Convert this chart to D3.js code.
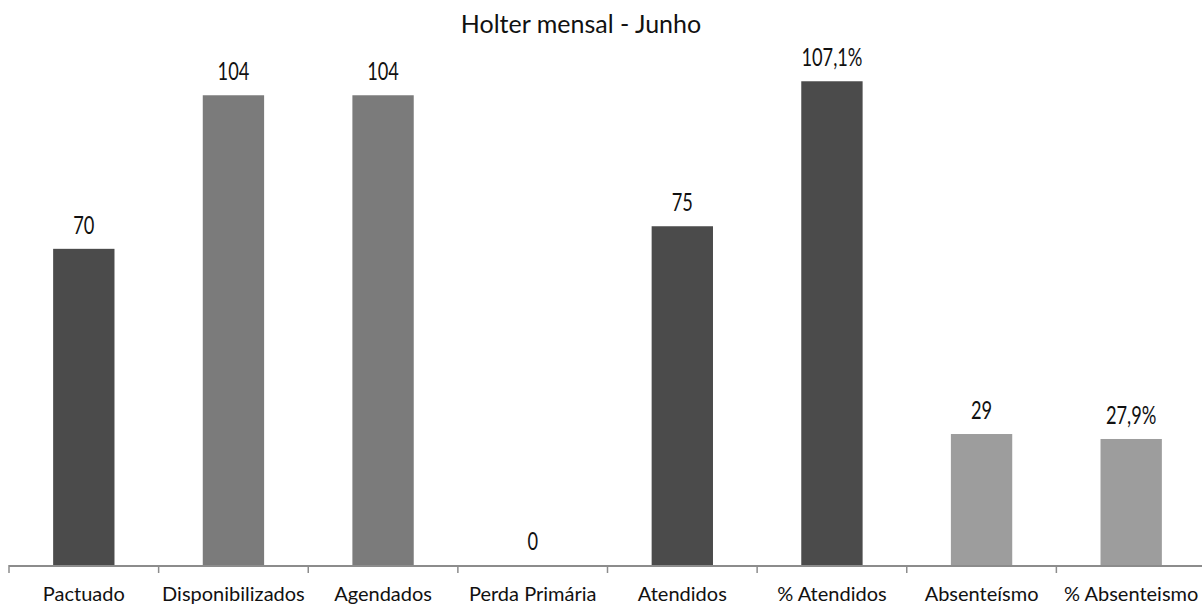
<!DOCTYPE html>
<html>
<head>
<meta charset="utf-8">
<script src="https://cdn.jsdelivr.net/npm/d3@7"></script>
<style>
  html, body { margin: 0; padding: 0; background: #fff; }
  svg text { font-family: Lato, "Open Sans", sans-serif; fill: #111; }
</style>
</head>
<body>
<svg id="chart" width="1202" height="604"></svg>
<script>
// Monthly Holter figures for June
const categories = ["Pactuado", "Disponibilizados", "Agendados", "Perda Primária",
                    "Atendidos", "% Atendidos", "Absenteísmo", "% Absenteismo"];
const values = [70, 104, 104, 0, 75, 107.1, 29, 27.9];
const valueLabels = ["70", "104", "104", "0", "75", "107,1%", "29", "27,9%"];
const barTones = ["dark", "mid", "mid", "light", "dark", "dark", "light", "light"];
const title = "Holter mensal - Junho";

const toneColor = { dark: "#4b4b4b", mid: "#7b7b7b", light: "#9d9d9d" };

const svg = d3.select("#chart");
const margin = { left: 9, right: -4, top: 23, bottom: 39 };
const W = 1202, H = 604;
const baseY = H - margin.bottom;

const x = d3.scaleBand()
  .domain(categories)
  .range([margin.left, W - margin.right])
  .paddingInner(0.59)
  .paddingOuter(0.295);

const y = d3.scaleLinear().domain([0, 120]).range([baseY, margin.top]);

// Title
svg.append("text")
  .attr("x", 581).attr("y", 33)
  .attr("text-anchor", "middle")
  .style("font-size", "25px")
  .text(title);

// Bars
svg.append("g").selectAll("rect")
  .data(values)
  .join("rect")
  .attr("x", (d, i) => x(categories[i]))
  .attr("width", x.bandwidth())
  .attr("y", d => y(d))
  .attr("height", d => baseY - y(d))
  .attr("fill", (d, i) => toneColor[barTones[i]]);

// Value labels above bars, set in a condensed width
svg.append("g").selectAll("text")
  .data(values)
  .join("text")
  .attr("transform", (d, i) =>
    `translate(${x(categories[i]) + x.bandwidth() / 2},${y(d) - 15}) scale(0.73,1)`)
  .attr("text-anchor", "middle")
  .style("font-size", "25px")
  .text((d, i) => valueLabels[i]);

// Category axis with ticks between bands
const axisG = svg.append("g");
axisG.append("line")
  .attr("x1", margin.left).attr("x2", W)
  .attr("y1", baseY + 1).attr("y2", baseY + 1)
  .attr("stroke", "#8c8c8c").attr("stroke-width", 2);

const edgeScale = d3.scaleLinear().domain([0, categories.length]).range([margin.left, W - margin.right]);
axisG.selectAll("line.tick")
  .data(d3.range(categories.length + 1))
  .join("line")
  .attr("class", "tick")
  .attr("x1", d => edgeScale(d)).attr("x2", d => edgeScale(d))
  .attr("y1", baseY).attr("y2", baseY + 8)
  .attr("stroke", "#8c8c8c").attr("stroke-width", 1.5);

axisG.selectAll("text.cat")
  .data(categories)
  .join("text")
  .attr("class", "cat")
  .attr("x", d => x(d) + x.bandwidth() / 2)
  .attr("y", H - 3)
  .attr("text-anchor", "middle")
  .style("font-size", "20px")
  .text(d => d);
</script>
</body>
</html>
